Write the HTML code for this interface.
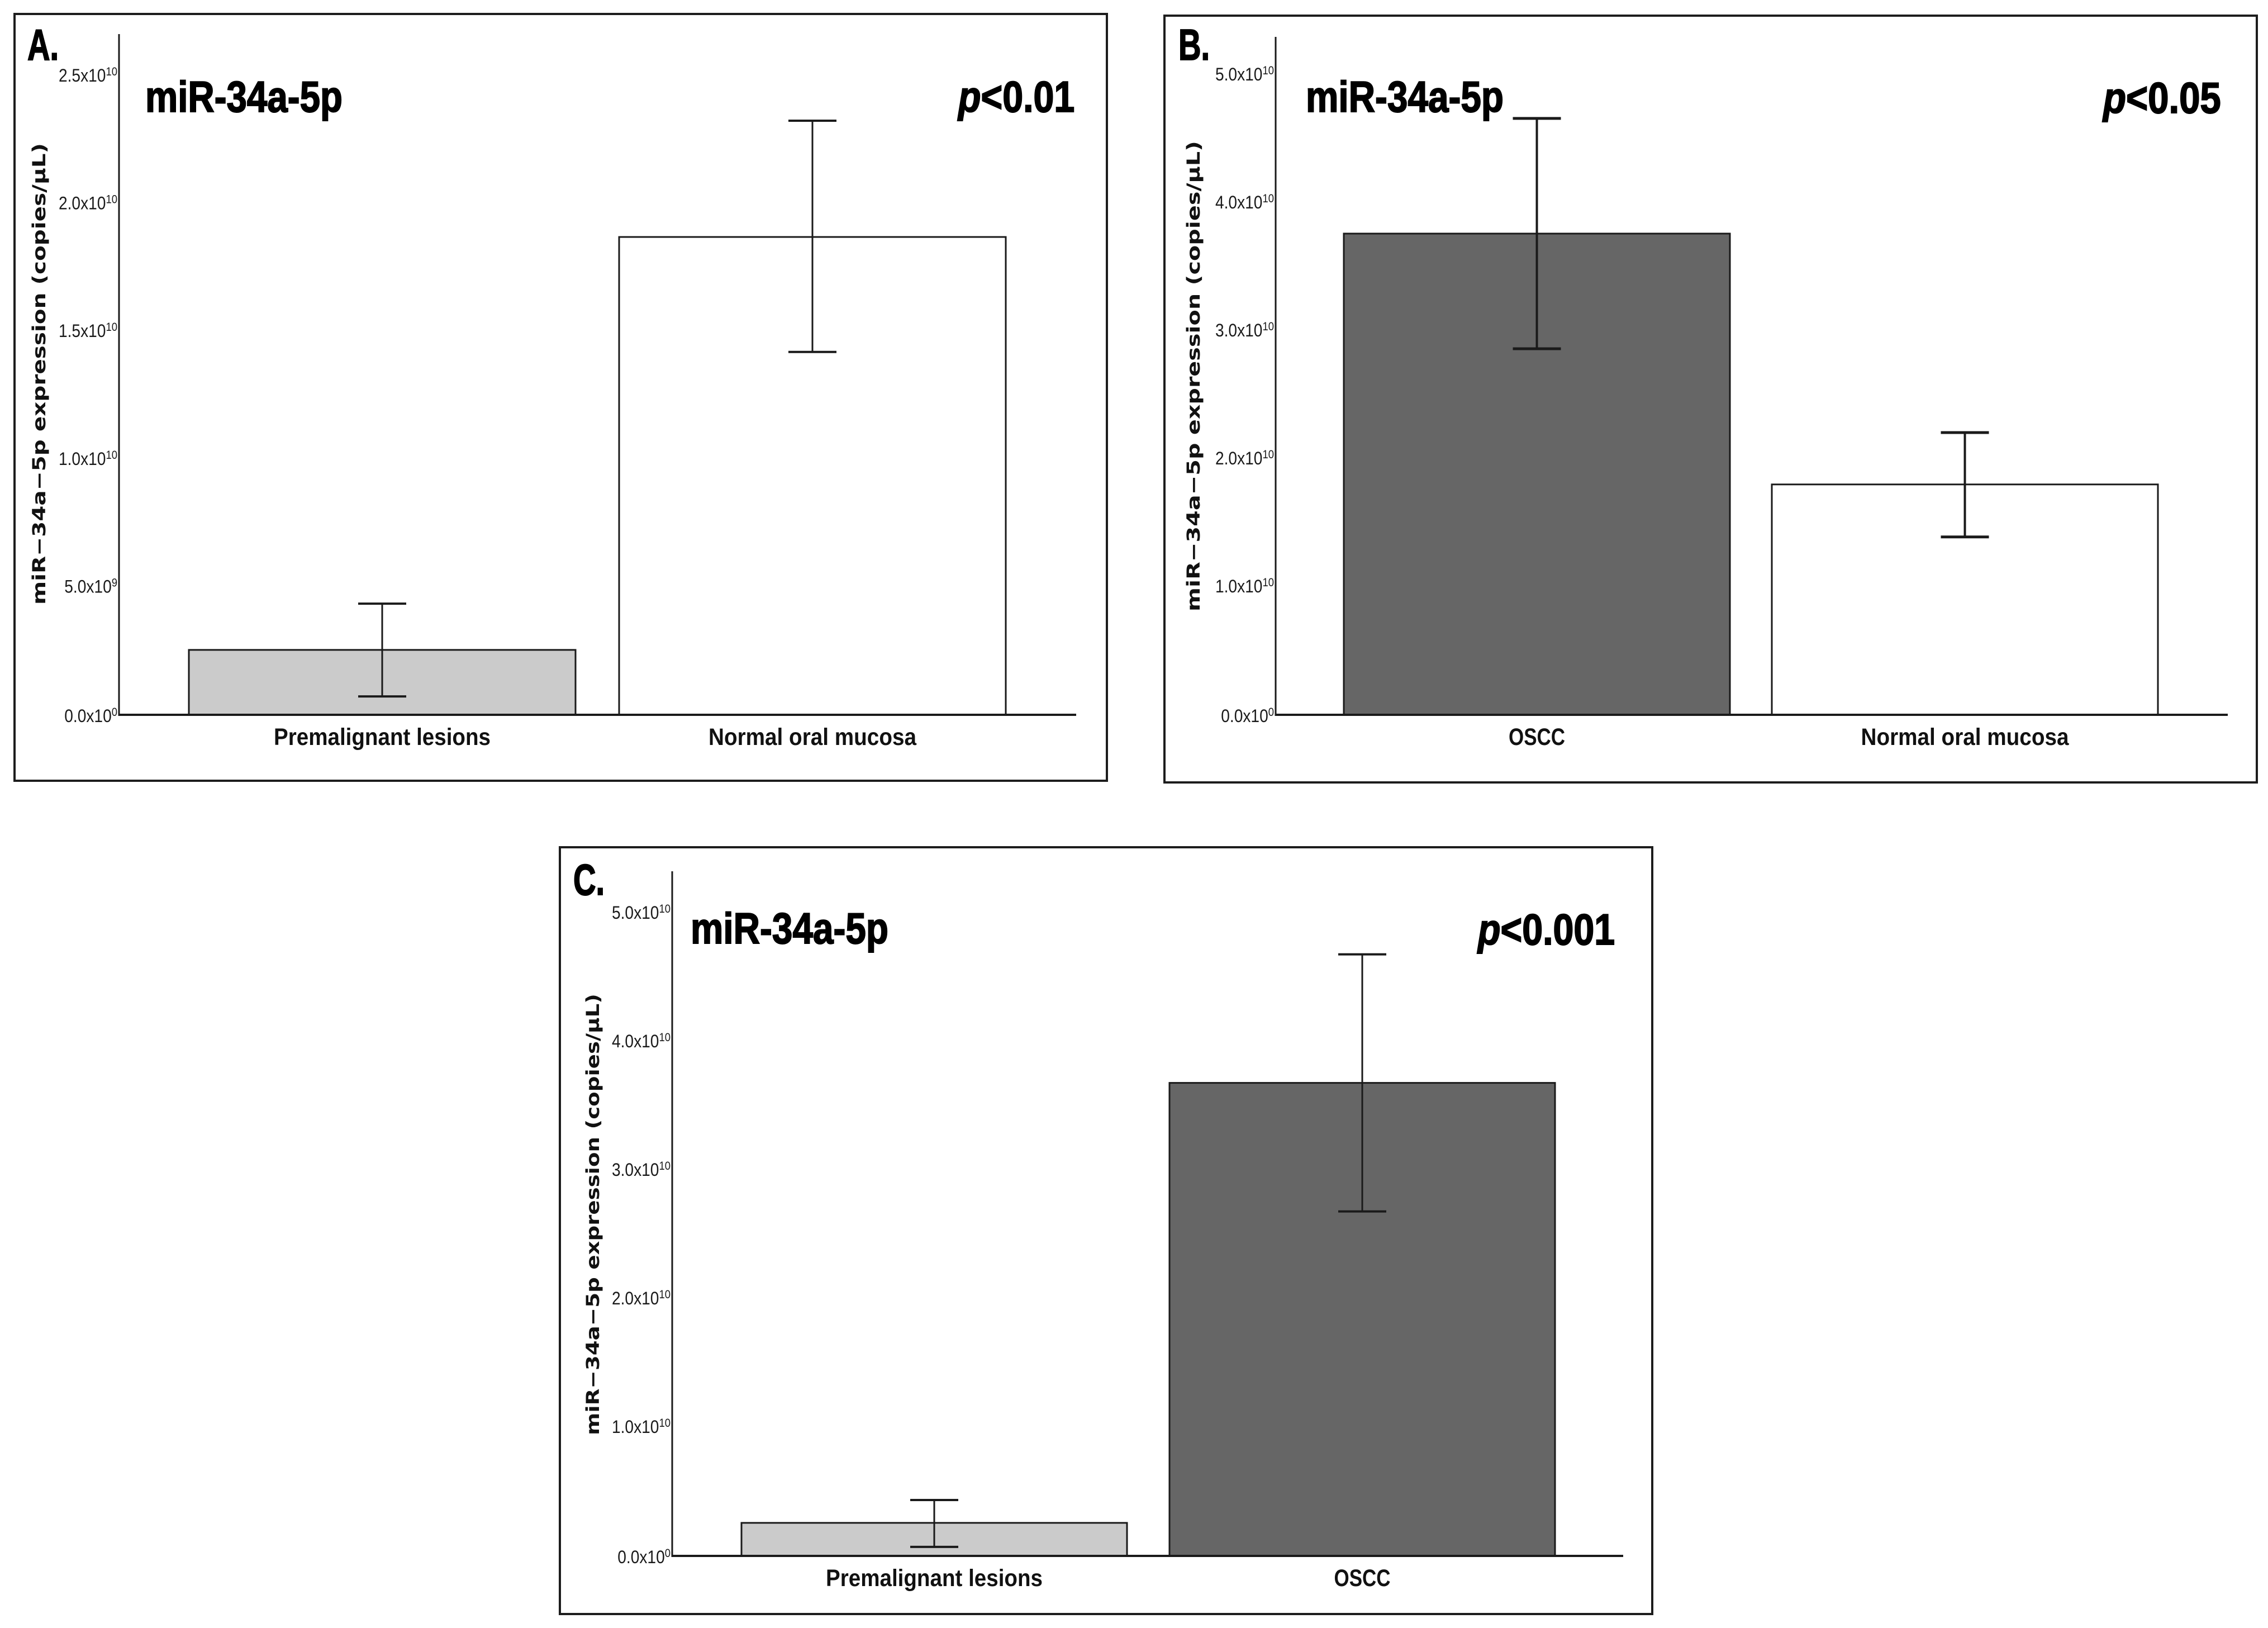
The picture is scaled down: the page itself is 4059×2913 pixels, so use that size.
<!DOCTYPE html>
<html lang="en">
<head>
<meta charset="utf-8">
<title>miR-34a-5p expression</title>
<style>
  html, body { margin: 0; padding: 0; background: #fff; }
  svg { display: block; }
  text { font-family: "Liberation Sans", sans-serif; fill: #000; }
  .head { font-weight: 700; font-size: 78px; stroke: #000; stroke-width: 2px; }
  .ytitle { font-family: "DejaVu Sans", sans-serif; font-weight: 700; font-size: 32px; fill: #111; }
  .tick { font-size: 32px; fill: #1a1a1a; }
  .cat { font-weight: 700; font-size: 43px; fill: #111; }
  .frame { fill: none; stroke: #1d1d1d; stroke-width: 4; }
</style>
</head>
<body>
<svg id="figure" xmlns="http://www.w3.org/2000/svg" width="4059" height="2913" viewBox="0 0 4059 2913">
  <rect x="0" y="0" width="4059" height="2913" fill="#fff"/>

  <g id="panel-a">
    <rect class="frame" x="26" y="25" width="1955" height="1372"/>
    <text class="head" transform="translate(49,107) scale(.72,1)">A.</text>
    <text class="head" x="260" y="200" textLength="353" lengthAdjust="spacingAndGlyphs">miR-34a-5p</text>
    <text class="head" transform="translate(1715,200) scale(.85,1)"><tspan font-style="italic">p</tspan>&lt;0.01</text>
    <text class="ytitle" transform="translate(81,1082) rotate(-90)" textLength="826" lengthAdjust="spacingAndGlyphs">miR−34a−5p expression (copies/µL)</text>
  </g>

  <g id="panel-b">
    <rect class="frame" x="2084" y="28" width="1955" height="1372"/>
    <text class="head" transform="translate(2109,107) scale(.72,1)">B.</text>
    <text class="head" x="2337" y="200" textLength="354" lengthAdjust="spacingAndGlyphs">miR-34a-5p</text>
    <text class="head" transform="translate(3764,202) scale(.86,1)"><tspan font-style="italic">p</tspan>&lt;0.05</text>
    <text class="ytitle" transform="translate(2147,1094) rotate(-90)" textLength="842" lengthAdjust="spacingAndGlyphs">miR−34a−5p expression (copies/µL)</text>
  </g>

  <g id="panel-c">
    <rect class="frame" x="1002" y="1516" width="1955" height="1372"/>
    <text class="head" transform="translate(1026,1601) scale(.72,1)">C.</text>
    <text class="head" x="1236" y="1688" textLength="354" lengthAdjust="spacingAndGlyphs">miR-34a-5p</text>
    <text class="head" transform="translate(2645,1690) scale(.85,1)"><tspan font-style="italic">p</tspan>&lt;0.001</text>
    <text class="ytitle" transform="translate(1072,2568) rotate(-90)" textLength="790" lengthAdjust="spacingAndGlyphs">miR−34a−5p expression (copies/µL)</text>
  </g>
</svg>

<script>
// ---- Data (copies/µL) ----
const panelACategories = ["Premalignant lesions", "Normal oral mucosa"];
const panelAMeans = [2.54e9, 1.87e10];
const panelALower = [0.72e9, 1.42e10];
const panelAUpper = [4.35e9, 2.325e10];
const panelATicks = [0, 5e9, 1e10, 1.5e10, 2e10, 2.5e10];
const panelATickLabels = ["0.0x10^0", "5.0x10^9", "1.0x10^10", "1.5x10^10", "2.0x10^10", "2.5x10^10"];

const panelBCategories = ["OSCC", "Normal oral mucosa"];
const panelBMeans = [3.76e10, 1.80e10];
const panelBLower = [2.86e10, 1.39e10];
const panelBUpper = [4.66e10, 2.205e10];
const panelBTicks = [0, 1e10, 2e10, 3e10, 4e10, 5e10];
const panelBTickLabels = ["0.0x10^0", "1.0x10^10", "2.0x10^10", "3.0x10^10", "4.0x10^10", "5.0x10^10"];

const panelCCategories = ["Premalignant lesions", "OSCC"];
const panelCMeans = [2.57e9, 3.68e10];
const panelCLower = [0.7e9, 2.68e10];
const panelCUpper = [4.35e9, 4.68e10];
const panelCTicks = [0, 1e10, 2e10, 3e10, 4e10, 5e10];
const panelCTickLabels = ["0.0x10^0", "1.0x10^10", "2.0x10^10", "3.0x10^10", "4.0x10^10", "5.0x10^10"];

// ---- Colours per category and label fit widths (presentation only) ----
const categoryFill = {
  "Premalignant lesions": "#cbcbcb",
  "Normal oral mucosa": "#ffffff",
  "OSCC": "#666666"
};
const categoryLabelWidth = {
  "Premalignant lesions": 388,
  "Normal oral mucosa": 372,
  "OSCC": 101
};

const SVG_NS = "http://www.w3.org/2000/svg";

function mk(parent, tag, attrs) {
  const node = document.createElementNS(SVG_NS, tag);
  for (const key in attrs) node.setAttribute(key, attrs[key]);
  parent.appendChild(node);
  return node;
}

function drawPanel(cfg) {
  const root = document.getElementById(cfg.id);
  const yScale = function (v) {
    return cfg.y0 + (cfg.yTop - cfg.y0) * (v / cfg.domainMax);
  };
  const bandLeft = function (i) {
    return cfg.bandStart + i * cfg.bandStep;
  };
  const bandCenter = function (i) {
    return bandLeft(i) + cfg.barWidth / 2;
  };

  // bars
  cfg.categories.forEach(function (cat, i) {
    const top = yScale(cfg.means[i]);
    const bar = mk(root, "rect", {
      x: bandLeft(i),
      y: top,
      width: cfg.barWidth,
      height: cfg.y0 - top,
      fill: categoryFill[cat],
      stroke: "#1a1a1a",
      "stroke-width": 3
    });
    
    
  });

  // axes
  const yAxis = mk(root, "line", {
    x1: cfg.axisX, x2: cfg.axisX, y1: cfg.axisTop, y2: cfg.y0 + 2,
    stroke: "#1a1a1a", "stroke-width": 3
  });
  
  

  const xAxis = mk(root, "line", {
    x1: cfg.axisX, x2: cfg.axisEnd, y1: cfg.y0, y2: cfg.y0,
    stroke: "#1a1a1a", "stroke-width": 4
  });
  
  

  // tick labels
  cfg.ticks.forEach(function (tick, i) {
    const parts = cfg.tickLabels[i].split("^");
    const baselineOffset = tick === 0 ? 13 : 10;
    const label = mk(root, "text", {
      class: "tick",
      "text-anchor": "end",
      transform: "translate(" + (cfg.axisX - 3) + "," + (yScale(tick) + baselineOffset) + ") scale(.88,1)"
    });
    
    
    const base = mk(label, "tspan", {});
    base.textContent = parts[0];
    const sup = mk(label, "tspan", { "font-size": 21, dy: -11 });
    sup.textContent = parts[1];
  });

  // category labels
  cfg.categories.forEach(function (cat, i) {
    const width = categoryLabelWidth[cat];
    const label = mk(root, "text", {
      class: "cat",
      x: bandCenter(i) - width / 2,
      y: cfg.y0 + 54,
      textLength: width,
      lengthAdjust: "spacingAndGlyphs"
    });
    
    
    label.textContent = cat;
  });

  // error bars
  cfg.categories.forEach(function (cat, i) {
    const cx = bandCenter(i);
    const yHi = yScale(cfg.upper[i]);
    const yLo = yScale(cfg.lower[i]);

    const stem = mk(root, "line", {
      x1: cx, x2: cx, y1: yHi, y2: yLo,
      stroke: "#1a1a1a", "stroke-width": cfg.errWidth
    });
    
    

    const capHi = mk(root, "line", {
      x1: cx - 43, x2: cx + 43, y1: yHi, y2: yHi,
      stroke: "#1a1a1a", "stroke-width": cfg.capWidth
    });
    
    

    const capLo = mk(root, "line", {
      x1: cx - 43, x2: cx + 43, y1: yLo, y2: yLo,
      stroke: "#1a1a1a", "stroke-width": cfg.capWidth
    });
    
    
  });
}

drawPanel({
  id: "panel-a", key: "panel-a",
  categories: panelACategories, means: panelAMeans, lower: panelALower, upper: panelAUpper,
  ticks: panelATicks, tickLabels: panelATickLabels,
  domainMax: 2.5e10, y0: 1279, yTop: 136,
  axisX: 213, axisTop: 61, axisEnd: 1926,
  bandStart: 338, bandStep: 770, barWidth: 692,
  errWidth: 3, capWidth: 4
});

drawPanel({
  id: "panel-b", key: "panel-b",
  categories: panelBCategories, means: panelBMeans, lower: panelBLower, upper: panelBUpper,
  ticks: panelBTicks, tickLabels: panelBTickLabels,
  domainMax: 5e10, y0: 1279, yTop: 134,
  axisX: 2283, axisTop: 66, axisEnd: 3987,
  bandStart: 2405, bandStep: 766, barWidth: 691,
  errWidth: 4, capWidth: 5
});

drawPanel({
  id: "panel-c", key: "panel-c",
  categories: panelCCategories, means: panelCMeans, lower: panelCLower, upper: panelCUpper,
  ticks: panelCTicks, tickLabels: panelCTickLabels,
  domainMax: 5e10, y0: 2784, yTop: 1634,
  axisX: 1203, axisTop: 1559, axisEnd: 2905,
  bandStart: 1327, bandStep: 766, barWidth: 690,
  errWidth: 3, capWidth: 4
});
</script>
</body>
</html>
